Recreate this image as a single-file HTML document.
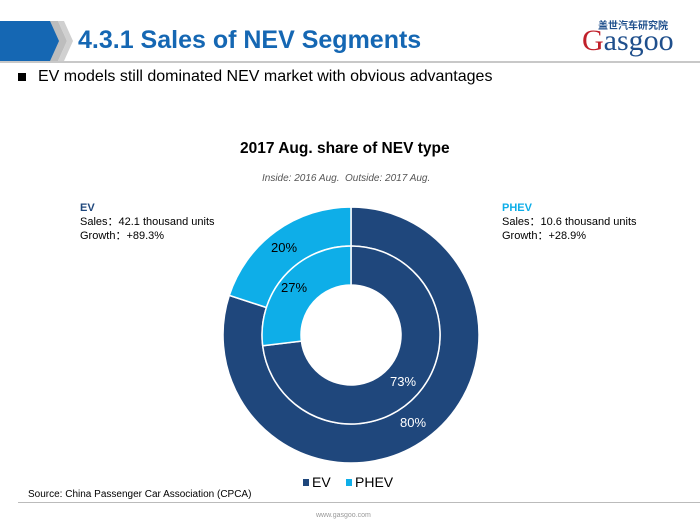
<!DOCTYPE html>
<html><head><meta charset="utf-8"><style>
body{margin:0;width:700px;height:525px;background:#fff;position:relative;font-family:"Liberation Sans",Arial,sans-serif;overflow:hidden}
.t{position:absolute;white-space:nowrap}
</style></head><body>
<svg width="700" height="525" style="position:absolute;left:0;top:0">
<polygon points="0,21 52,21 60,41 52,61 0,61" fill="#1567b3"/>
<polygon points="50,21 58,21 67,41 58,61 50,61 59,41" fill="#bdbdbd"/>
<polygon points="58,21 64,21 73,41 64,61 58,61 67,41" fill="#d0d0d0"/>
<rect x="0" y="61" width="700" height="2" fill="#c8c8c8"/>
<rect x="18" y="73" width="8" height="8" fill="#000"/>
<rect x="18" y="502" width="682" height="1" fill="#bbb"/>
<g stroke="#fff" stroke-width="1.5">
<path d="M351,207 A128,128 0 1 1 229.3,295.4 L266.4,307.5 A89,89 0 1 0 351,246 Z" fill="#1f477c"/>
<path d="M351,207 A128,128 0 0 0 229.3,295.4 L266.4,307.5 A89,89 0 0 1 351,246 Z" fill="#0eaee8"/>
<path d="M351,246 A89,89 0 1 1 262.7,345.8 L301.4,341.1 A50,50 0 1 0 351,285 Z" fill="#1f477c"/>
<path d="M351,246 A89,89 0 0 0 262.7,345.8 L301.4,341.1 A50,50 0 0 1 351,285 Z" fill="#0eaee8"/>
</g>
<rect x="303" y="479" width="6" height="7" fill="#1f477c"/>
<rect x="346" y="479" width="6" height="7" fill="#0eaee8"/>
</svg>
<div class="t" style="left:78px;top:26px;font-size:25px;font-weight:bold;color:#1567b3">4.3.1 Sales of NEV Segments</div>
<div class="t" style="left:598px;top:17px;font-size:10px;color:#1f4f8c;font-family:'Noto Sans CJK SC',sans-serif;font-weight:bold">盖世汽车研究院</div>
<div class="t" style="left:582px;top:24px;font-size:30px;color:#1f4f8c;font-family:'Liberation Serif',serif"><span style="color:#c0202a">G</span>asgoo</div>
<div class="t" style="left:38px;top:68px;font-size:16px;color:#000">EV models still dominated NEV market with obvious advantages</div>
<div class="t" style="left:240px;top:140px;font-size:15.5px;font-weight:bold;color:#000">2017 Aug. share of NEV type</div>
<div class="t" style="left:262px;top:173px;font-size:10px;font-style:italic;color:#555">Inside: 2016 Aug.&nbsp; Outside: 2017 Aug.</div>
<div class="t" style="left:80px;top:201px;font-size:11px;line-height:14px;color:#000"><b style="color:#1f477c">EV</b><br>Sales：42.1 thousand units<br>Growth：+89.3%</div>
<div class="t" style="left:502px;top:201px;font-size:11px;line-height:14px;color:#000"><b style="color:#0eaee8">PHEV</b><br>Sales：10.6 thousand units<br>Growth：+28.9%</div>
<div class="t" style="left:271px;top:240px;font-size:13px;color:#000">20%</div>
<div class="t" style="left:281px;top:280px;font-size:13px;color:#000">27%</div>
<div class="t" style="left:390px;top:374px;font-size:13px;color:#fff">73%</div>
<div class="t" style="left:400px;top:415px;font-size:13px;color:#fff">80%</div>
<div class="t" style="left:312px;top:474px;font-size:14px;color:#000">EV</div>
<div class="t" style="left:355px;top:474px;font-size:14px;color:#000">PHEV</div>
<div class="t" style="left:28px;top:489px;font-size:10px;color:#000">Source: China Passenger Car Association (CPCA)</div>
<div class="t" style="left:316px;top:512px;font-size:7px;color:#999">www.gasgoo.com</div>
</body></html>
